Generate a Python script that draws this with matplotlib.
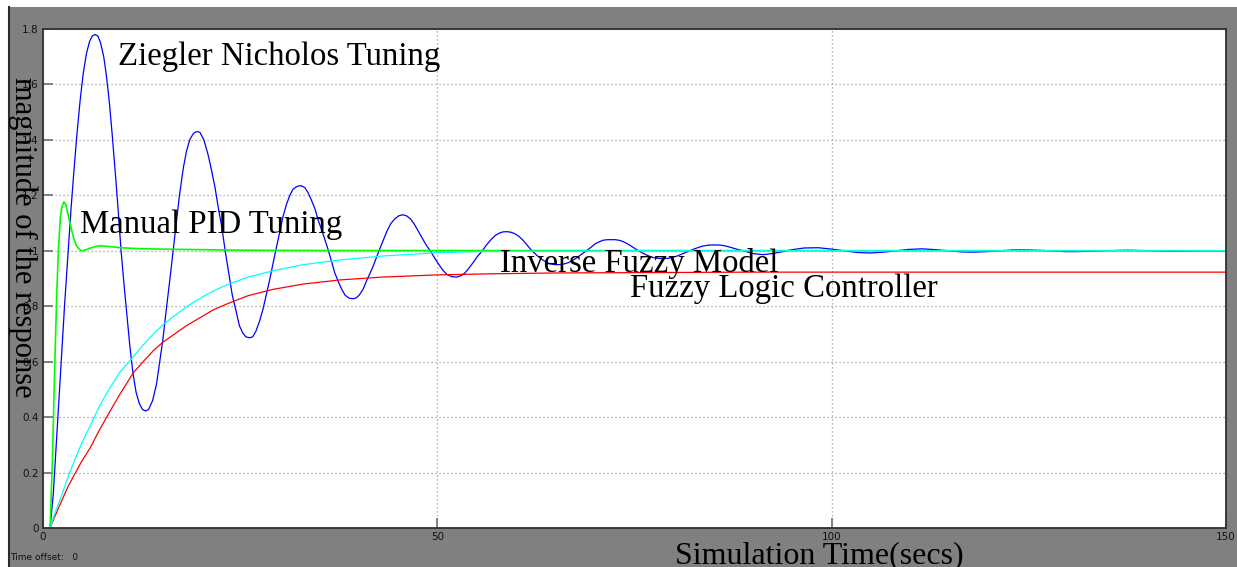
import matplotlib
matplotlib.use("Agg")
import matplotlib.pyplot as plt
from matplotlib.patches import Rectangle
from matplotlib.lines import Line2D
from matplotlib.ticker import MultipleLocator, FormatStrFormatter

# Ziegler Nicholos tuning (blue)
zn_t = [0, 0.9, 1.3, 1.8, 2.3, 2.75, 3.2, 3.55, 3.9, 4.3, 4.7, 5.1, 5.5, 5.9, 6.25, 6.6, 6.95,
        7.3, 7.7, 8.0, 8.4, 8.8, 9.2, 9.55, 9.9, 10.3, 10.6, 11.0, 11.4, 11.8, 12.2, 12.6,
        13.0, 13.4, 13.9, 14.4, 14.8, 15.2, 15.6, 16.1, 16.5, 16.9, 17.3, 17.8, 18.2, 18.6,
        19.0, 19.3, 19.6, 19.9, 20.4, 20.9, 21.3, 21.8, 22.2, 22.7, 23.1, 23.6, 24.0, 24.5,
        24.9, 25.3, 25.7, 26.2, 26.6, 27.0, 27.5, 27.9, 28.3, 28.7, 29.1, 29.5, 30.0, 30.4,
        30.9, 31.3, 31.7, 32.2, 32.7, 33.2, 33.6, 34.0, 34.5, 34.9, 35.4, 35.8, 36.2, 36.6,
        37.0, 37.5, 37.9, 38.3, 38.8, 39.3, 39.7, 40.1, 40.6, 41.0, 41.4, 41.8, 42.2, 42.6,
        43.1, 43.6, 44.1, 44.6, 45.1, 45.6, 46.1, 46.6, 47.1, 47.6, 48.1, 48.6, 49.1, 49.7,
        50.2, 50.7, 51.2, 51.8, 52.4, 53.0, 53.5, 54.0, 54.6, 55.1, 55.7, 56.2, 56.8, 57.3,
        57.8, 58.3, 58.8, 59.3, 59.8, 60.3, 60.8, 61.4, 62.0, 62.6, 63.2, 63.8, 64.3, 64.9,
        65.5, 66.0, 66.6, 67.2, 67.8, 68.3, 68.9, 69.5, 70.0, 70.5, 71.0, 71.6, 72.1, 72.6,
        73.2, 73.8, 74.3, 74.9, 75.5, 76.0, 76.5, 77.1, 77.6, 78.2, 78.7, 79.3, 79.8, 80.4,
        81.0, 81.5, 82.0, 82.6, 83.2, 83.7, 84.3, 84.8, 85.4, 86.0, 86.6, 87.1, 87.7, 88.2,
        88.8, 90.0, 91.3, 92.5, 93.8, 95.0, 96.5, 98.3, 100.0, 101.6, 103.2, 104.9, 106.6,
        108.2, 109.8, 111.5, 113.2, 114.8, 116.4, 118.0, 119.7, 121.3, 123.0, 124.5, 126.0,
        127.8, 129.5, 131.0, 132.6, 134.3, 136.0, 137.5, 139.0, 140.8, 142.5, 144.0, 145.6,
        147.3, 150.0]
zn_v = [0, 0, 0.12, 0.36, 0.6, 0.81, 1.0, 1.15, 1.28, 1.42, 1.54, 1.64, 1.71, 1.755, 1.775, 1.78,
        1.775, 1.75, 1.70, 1.64, 1.54, 1.41, 1.27, 1.14, 1.0, 0.87, 0.78, 0.66, 0.56, 0.49, 0.45,
        0.428, 0.422, 0.428, 0.46, 0.52, 0.6, 0.68, 0.78, 0.9, 1.0, 1.1, 1.2, 1.3, 1.36, 1.40,
        1.42, 1.428, 1.43, 1.427, 1.40, 1.35, 1.30, 1.23, 1.16, 1.08, 1.0, 0.91, 0.84, 0.78,
        0.73, 0.705, 0.69, 0.686, 0.69, 0.71, 0.75, 0.79, 0.84, 0.89, 0.945, 1.0, 1.065, 1.12,
        1.17, 1.2, 1.222, 1.232, 1.235, 1.228, 1.21, 1.185, 1.15, 1.11, 1.07, 1.035, 1.0, 0.96,
        0.92, 0.885, 0.86, 0.84, 0.829, 0.827, 0.83, 0.84, 0.862, 0.89, 0.915, 0.94, 0.97, 1.0,
        1.035, 1.07, 1.098, 1.115, 1.126, 1.13, 1.126, 1.115, 1.095, 1.07, 1.045, 1.02, 1.0, 0.972,
        0.95, 0.93, 0.915, 0.907, 0.905, 0.91, 0.92, 0.937, 0.96, 0.98, 1.0, 1.02, 1.04, 1.054,
        1.063, 1.068, 1.069, 1.067, 1.062, 1.053, 1.04, 1.02, 1.0, 0.984, 0.97, 0.959, 0.953, 0.95,
        0.95, 0.952, 0.957, 0.966, 0.977, 0.988, 1.0, 1.013, 1.025, 1.032, 1.038, 1.04, 1.04, 1.04,
        1.037, 1.03, 1.022, 1.011, 1.0, 0.992, 0.985, 0.978, 0.974, 0.972, 0.972, 0.973, 0.976, 0.981,
        0.988, 0.994, 1.0, 1.007, 1.013, 1.017, 1.02, 1.021, 1.021, 1.02, 1.017, 1.013, 1.008, 1.004,
        1.0, 0.99, 0.986, 0.99, 0.997, 1.004, 1.01, 1.011, 1.006, 1.0, 0.994, 0.992, 0.995,
        1.0, 1.005, 1.007, 1.004, 1.0, 0.996, 0.995, 0.997, 1.0, 1.003, 1.003, 1.002,
        1.0, 0.997, 0.997, 0.998, 1.0, 1.001, 1.002, 1.001, 1.0, 0.998, 0.998, 0.999,
        1.0, 1.0]

# Manual PID tuning (green)
pid_t = [0, 0.9, 1.2, 1.5, 1.75, 1.95, 2.2, 2.4, 2.66, 2.9, 3.1, 3.35, 3.63, 3.9, 4.2, 4.6,
         5.0, 5.5, 6.0, 6.6, 7.2, 8.5, 9.8, 12.0, 14.8, 20.0, 25.0, 35.0, 150.0]
pid_v = [0, 0, 0.25, 0.6, 0.85, 1.0, 1.12, 1.158, 1.177, 1.165, 1.14, 1.108, 1.075, 1.045, 1.02,
         1.005, 1.0, 1.004, 1.01, 1.015, 1.018, 1.015, 1.011, 1.008, 1.006, 1.004, 1.002, 1.001, 1.0]

# Inverse fuzzy model (cyan)
ifm_t = [0, 0.9, 1.6, 2.4, 3.1, 3.84, 4.9, 6.0, 7.0, 8.07, 9.7, 11.45, 12.7, 14.0, 15.2, 16.5,
         18.2, 20.0, 21.6, 23.3, 26.0, 29.2, 33.0, 37.7, 43.0, 49.9, 55.0, 60.0, 75.0, 150.0]
ifm_v = [0, 0, 0.06, 0.12, 0.178, 0.233, 0.305, 0.37, 0.43, 0.486, 0.56, 0.618, 0.66, 0.70, 0.733,
         0.762, 0.798, 0.83, 0.855, 0.877, 0.905, 0.928, 0.95, 0.967, 0.981, 0.993, 0.997, 0.998,
         1.0, 1.0]

# Fuzzy logic controller (red)
flc_t = [0, 0.9, 1.6, 2.4, 3.1, 3.84, 4.9, 6.0, 7.0, 8.07, 9.7, 11.45, 12.7, 14.0, 15.2, 16.5,
         18.2, 20.0, 21.6, 23.3, 26.0, 29.2, 33.0, 37.7, 43.0, 49.9, 57.0, 65.0, 90.0, 150.0]
flc_v = [0, 0, 0.048, 0.1, 0.145, 0.185, 0.24, 0.29, 0.345, 0.40, 0.48, 0.56, 0.60, 0.64, 0.67,
         0.696, 0.73, 0.76, 0.787, 0.808, 0.838, 0.861, 0.88, 0.895, 0.905, 0.913, 0.917, 0.92,
         0.923, 0.923]

x_ticks = [0, 50, 100, 150]

W, H = 1237, 567
fig = plt.figure(figsize=(W / 100, H / 100), dpi=100, facecolor='white')

# scope window background
fig.patches.append(Rectangle((8 / W, 0), 1 - 8 / W, (H - 7) / H, transform=fig.transFigure,
                             facecolor='#808080', edgecolor='none', zorder=-10))
fig.lines.append(Line2D([8.5 / W, 8.5 / W], [0, (H - 7) / H], transform=fig.transFigure,
                        color='#2a2a2a', lw=1.5, zorder=-5))

ax = fig.add_axes([43 / W, (H - 528) / H, 1183 / W, 499 / H])
ax.set_facecolor('white')

ax.plot(zn_t, zn_v, color='#0000ff', lw=0.9)
ax.plot(flc_t, flc_v, color='#ff0000', lw=0.9)
ax.plot(pid_t, pid_v, color='#00ff00', lw=1.2)
ax.plot(ifm_t, ifm_v, color='#00ffff', lw=0.9)

ax.set_xlim(0, 150)
ax.set_ylim(0, 1.8)
ax.set_xticks(x_ticks)
ax.yaxis.set_major_locator(MultipleLocator(0.2))
ax.yaxis.set_major_formatter(FormatStrFormatter('%g'))

ax.grid(True, color='#9a9a9a', linestyle=(0, (1, 2.2)), lw=0.9)
ax.tick_params(direction='in', length=7.5, width=1.4, color='#808080', labelsize=7.5,
               labelcolor='#111111', pad=3)
for s in ax.spines.values():
    s.set_color('#303030')
    s.set_linewidth(1.3)

serif = 'Liberation Serif'
fs = 23.6
ax.text(9.5, 1.67, 'Ziegler Nicholos Tuning', family=serif, fontsize=fs, va='baseline')
ax.text(4.7, 1.063, 'Manual PID Tuning', family=serif, fontsize=fs, va='baseline')
ax.text(57.9, 0.925, 'Inverse Fuzzy Model', family=serif, fontsize=fs, va='baseline')
ax.text(74.4, 0.834, 'Fuzzy Logic Controller', family=serif, fontsize=fs, va='baseline')

fig.text(23 / W, 1 - 237 / H, 'magnitude of the response', family=serif, fontsize=22,
         rotation=270, ha='center', va='center')
fig.text(819 / W, (H - 563) / H, 'Simulation Time(secs)', family=serif, fontsize=23,
         ha='center', va='baseline')
fig.text(10 / W, 1 - 557 / H, 'Time offset:   0', fontsize=6.5, va='center', color='#111111')

fig.savefig('out.png', dpi=100, facecolor=fig.get_facecolor())
